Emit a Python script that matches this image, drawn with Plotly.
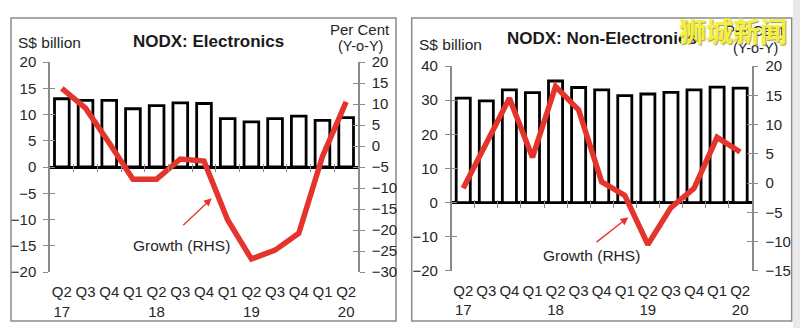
import plotly.graph_objects as go

W, H = 800, 328

categories = ["Q2<br>17", "Q3", "Q4", "Q1", "Q2<br>18", "Q3", "Q4", "Q1",
              "Q2<br>19", "Q3", "Q4", "Q1", "Q2<br>20"]

elec_values = [13.0, 12.7, 12.7, 11.1, 11.7, 12.2, 12.1, 9.2, 8.6, 9.2, 9.7, 8.9, 9.4]
elec_growth = [13.7, 9.0, 0.7, -7.9, -7.9, -3.1, -3.6, -17.6, -26.9, -24.8, -20.8, -2.5, 10.5]

nonelec_values = [30.6, 29.8, 33.0, 32.2, 35.6, 33.7, 33.0, 31.3, 31.8, 32.3, 33.0, 33.8, 33.5]
nonelec_growth = [-0.9, 7.0, 14.5, 4.4, 16.5, 12.5, 0.2, -2.1, -10.5, -4.2, -0.9, 7.8, 5.3]

left_ticks_elec = list(range(-20, 21, 5))
right_ticks_elec = list(range(-30, 21, 5))
left_ticks_non = list(range(-20, 41, 10))
right_ticks_non = list(range(-15, 21, 5))

FONT = "Liberation Sans, Arial, sans-serif"
TXT = "#262626"
GRAY = "#8a8a8a"
RED = "#E5342B"

idx = list(range(len(categories)))


def px(x):
    return x / W


def py(y):
    return 1 - y / H


fig = go.Figure()

fig.add_trace(go.Bar(x=idx, y=elec_values, xaxis="x", yaxis="y", width=0.62,
                     marker=dict(color="white", line=dict(color="black", width=2.8)),
                     showlegend=False))
fig.add_trace(go.Scatter(x=idx, y=elec_growth, xaxis="x", yaxis="y2", mode="lines",
                         line=dict(color=RED, width=5.5), showlegend=False))
fig.add_trace(go.Bar(x=idx, y=nonelec_values, xaxis="x2", yaxis="y3", width=0.61,
                     marker=dict(color="white", line=dict(color="black", width=2.8)),
                     showlegend=False))
fig.add_trace(go.Scatter(x=idx, y=nonelec_growth, xaxis="x2", yaxis="y4", mode="lines",
                         line=dict(color=RED, width=5.5), showlegend=False))

xdom1 = [px(50), px(358)]
xdom2 = [px(451.7), px(751.7)]
ydom1 = [py(272), py(62)]
ydom2 = [py(270.8), py(66)]

yr1 = [-20, 20]
yr2 = [-30, 20]
yr3 = [-20, 40]
yr4 = [-15, 20]


def yaxis(dom, rng, tickvals, side="left", overlay=None, anchor="x", zero=False,
          inside=False, labels=True):
    d = dict(range=rng, tickvals=tickvals, side=side, anchor=anchor,
             showgrid=False, zeroline=zero, zerolinecolor="black", zerolinewidth=2.6,
             ticks="inside" if inside else "outside", ticklen=5, tickwidth=1.3,
             tickcolor=GRAY, showline=not inside, linecolor=GRAY, linewidth=1.5,
             showticklabels=labels, tickfont=dict(family=FONT, size=15, color=TXT),
             ticklabelstandoff=4, automargin=False)
    if overlay:
        d["overlaying"] = overlay
    else:
        d["domain"] = dom
    return d


def zero_pos(dom, rng, shift_px):
    f = (0 - rng[0]) / (rng[1] - rng[0])
    return dom[0] + f * (dom[1] - dom[0]) + shift_px / H


xcommon = dict(range=[-0.5, 12.5], showgrid=False, zeroline=False, showline=False,
               ticks="", tickvals=idx, ticktext=categories, automargin=False,
               tickfont=dict(family=FONT, size=15, color=TXT), ticklabelstandoff=9)

bound = [i + 0.5 for i in idx[:-1]]
xtickcommon = dict(range=[-0.5, 12.5], showgrid=False, zeroline=False, showline=False,
                   ticks="outside", ticklen=8, tickwidth=1.3, tickcolor=GRAY,
                   tickvals=bound, showticklabels=False, anchor="free", automargin=False)

fig.update_layout(
    width=W, height=H, autosize=False,
    margin=dict(l=0, r=0, t=0, b=0, pad=0, autoexpand=False),
    paper_bgcolor="white", plot_bgcolor="rgba(0,0,0,0)",
    bargap=0.3, showlegend=False,
    xaxis=dict(domain=xdom1, anchor="y", **xcommon),
    xaxis2=dict(domain=xdom2, anchor="y3", **xcommon),
    xaxis3=dict(overlaying="x", position=zero_pos(ydom1, yr1, 4), **xtickcommon),
    xaxis4=dict(overlaying="x2", position=zero_pos(ydom2, yr3, 4), **xtickcommon),
    yaxis=yaxis(ydom1, yr1, left_ticks_elec, zero=True),
    yaxis2=yaxis(ydom1, yr2, right_ticks_elec, side="right", overlay="y"),
    yaxis3=yaxis(ydom2, yr3, left_ticks_non, anchor="x2", zero=True),
    yaxis4=yaxis(ydom2, yr4, right_ticks_non, side="right", overlay="y3", anchor="x2"),
    yaxis5=yaxis(ydom1, yr1, left_ticks_elec, overlay="y", inside=True, labels=False),
    yaxis6=yaxis(ydom1, yr2, right_ticks_elec, side="right", overlay="y", inside=True, labels=False),
    yaxis7=yaxis(ydom2, yr3, left_ticks_non, overlay="y3", anchor="x2", inside=True, labels=False),
    yaxis8=yaxis(ydom2, yr4, right_ticks_non, side="right", overlay="y3", anchor="x2", inside=True, labels=False),
)

for xa, ya, rng in [("x3", "y5", yr1), ("x3", "y6", yr2), ("x4", "y7", yr3), ("x4", "y8", yr4)]:
    fig.add_trace(go.Scatter(x=[0], y=[rng[0]], xaxis=xa, yaxis=ya, mode="markers",
                             marker=dict(opacity=0), hoverinfo="skip", showlegend=False))

fig.add_shape(type="rect", xref="paper", yref="paper", x0=px(11), x1=px(396), y0=py(321), y1=py(18),
              line=dict(color=GRAY, width=1.5), layer="below")
fig.add_shape(type="rect", xref="paper", yref="paper", x0=px(411.7), x1=px(791.7), y0=py(321), y1=py(18),
              line=dict(color=GRAY, width=1.5), layer="below")
fig.add_shape(type="rect", xref="paper", yref="paper", x0=px(793), x1=1, y0=0, y1=1,
              line=dict(width=0), fillcolor="#e9e9e9", layer="below")


def text(x, y, s, size=15.5, bold=False, xanchor="center", color=TXT, family=FONT):
    fig.add_annotation(x=px(x), y=py(y), xref="paper", yref="paper", text=s, showarrow=False,
                       xanchor=xanchor, yanchor="middle", borderpad=0,
                       font=dict(family=family, size=size, color=color,
                                 weight="bold" if bold else "normal"))


text(16.7, 42.7, "S$ billion", xanchor="left")
text(208.7, 41.7, "NODX: Electronics", size=17, bold=True, color="#1a1a1a")
text(360.3, 29.5, "Per Cent", size=15)
text(360, 46, "(Y-o-Y)", size=14.5)
text(181.3, 245, "Growth (RHS)")

text(418.3, 44.3, "S$ billion", xanchor="left")
text(506, 38.3, "NODX: Non-Electronics", size=17, bold=True, xanchor="left", color="#1a1a1a")
text(755, 30.5, "Per Cent", size=15)
text(755, 48, "(Y-o-Y)", size=14.5)
text(591.3, 255.7, "Growth (RHS)")

for head, tail in [((211.7, 198.3), (181.7, 226.7)), ((628.3, 217.3), (595, 243.3))]:
    fig.add_annotation(x=px(head[0]), y=py(head[1]), xref="paper", yref="paper", text="",
                       showarrow=True, ax=tail[0] - head[0], ay=tail[1] - head[1],
                       arrowcolor=RED, arrowwidth=1.3, arrowhead=2, arrowsize=1.2)

fig.add_annotation(x=px(733), y=py(31), xref="paper", yref="paper", text="狮城新闻",
                   showarrow=False, xanchor="center", yanchor="middle",
                   font=dict(family="Noto Sans CJK SC", size=27, color="#F4F03C", weight="bold",
                             shadow="1px 1px 1px #9a9a60"))

fig.write_html("out.html")
